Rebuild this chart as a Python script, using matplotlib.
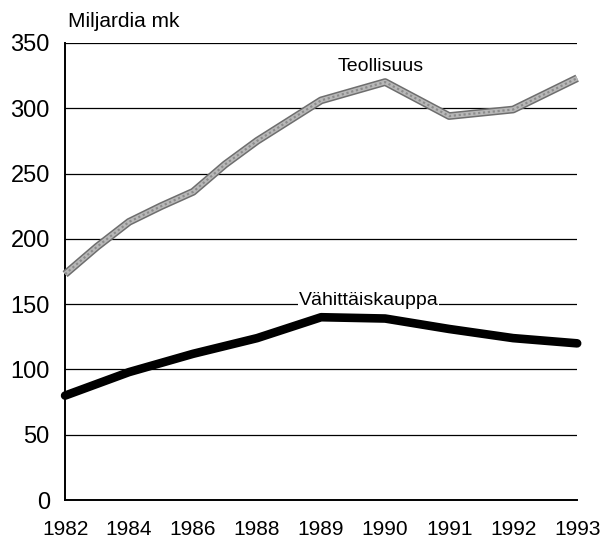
import numpy as np
import matplotlib
matplotlib.use("Agg")
import matplotlib.pyplot as plt

plt.rcParams['font.family'] = ['Liberation Sans', 'DejaVu Sans']

# tick years and their (evenly spaced) positions on the x axis
tick_years = [1982, 1984, 1986, 1988, 1989, 1990, 1991, 1992, 1993]
tick_labels = [str(y) for y in tick_years]

years = [1982, 1983, 1984, 1985, 1986, 1987, 1988, 1989, 1990, 1991, 1992, 1993]
teollisuus = [173, 194, 213, 225, 236, 257, 275, 306, 320, 294, 299, 323]
vahittais = [80, 89, 98, 105, 112, 118, 124, 140, 139, 131, 124, 120]

yticks = [0, 50, 100, 150, 200, 250, 300, 350]

tick_pos = np.arange(len(tick_years))
x = np.interp(years, tick_years, tick_pos)

fig = plt.figure(figsize=(6.14, 5.43), dpi=100)
ax = fig.add_axes([0.106, 0.079, 0.834, 0.842])

for v in yticks[1:]:
    ax.axhline(v, color='black', lw=0.9, zorder=1)

# Teollisuus: textured grey band
ax.plot(x, teollisuus, color='#6e6e6e', lw=5.6, solid_capstyle='butt', zorder=3, clip_on=False)
ax.plot(x, teollisuus, color='#b8b8b8', lw=3.4, solid_capstyle='butt', zorder=4, clip_on=False)
ax.plot(x, teollisuus, color='#8c8c8c', lw=1.6, ls=(0, (1, 1.2)), zorder=5, clip_on=False)

ax.plot(x, vahittais, color='black', lw=6.2, solid_capstyle='round', zorder=3, clip_on=False)

ax.text(4.93, 332, 'Teollisuus', fontsize=14, ha='center', va='center')
ax.text(4.74, 153, 'Vähittäiskauppa', fontsize=14, ha='center', va='center',
        bbox=dict(facecolor='white', edgecolor='none', pad=0.3), zorder=6)

ax.set_xlim(0, 8)
ax.set_ylim(0, 350)
ax.set_xticks(tick_pos)
ax.set_xticklabels(tick_labels, fontsize=15)
ax.set_yticks(yticks)
ax.set_yticklabels([str(v) for v in yticks], fontsize=17)
ax.tick_params(length=0, pad=11)
ax.tick_params(axis='x', pad=14)

for s in ['top', 'right']:
    ax.spines[s].set_visible(False)
ax.spines['left'].set_linewidth(1.4)
ax.spines['bottom'].set_linewidth(1.4)

fig.text(0.111, 0.96, 'Miljardia mk', fontsize=15, ha='left', va='center')

fig.savefig('out.png', dpi=100)
